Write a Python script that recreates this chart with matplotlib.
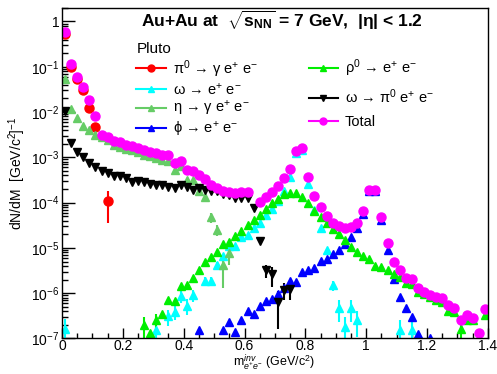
import numpy as np
import matplotlib
matplotlib.use('Agg')
import matplotlib.pyplot as plt
from matplotlib.lines import Line2D
from matplotlib.ticker import FixedLocator, FixedFormatter, LogLocator, MultipleLocator

plt.rcParams['font.family'] = ['Liberation Sans', 'DejaVu Sans']
plt.rcParams['mathtext.fontset'] = 'custom'
plt.rcParams['mathtext.rm'] = 'Liberation Sans'
plt.rcParams['mathtext.it'] = 'Liberation Sans:italic'
plt.rcParams['mathtext.bf'] = 'Liberation Sans:bold'

# pi0 -> gamma e+ e-
pi0_x = [0.01, 0.03, 0.05, 0.07, 0.09, 0.11, 0.15]
pi0_y = [0.52, 0.10, 0.054, 0.030, 0.0125, 0.0046, 1.1e-4]
pi0_e = [0, 0, 0, 0, 0, 0, 7.5e-5]

# omega -> e+ e-
om_x = [0.01, 0.31, 0.35, 0.37, 0.39, 0.41, 0.43, 0.47, 0.49, 0.51, 0.53, 0.55, 0.57,
        0.59, 0.61, 0.63, 0.65, 0.67, 0.69, 0.71, 0.73, 0.75, 0.77, 0.79, 0.81, 0.83,
        0.85, 0.87, 0.89, 0.91, 0.93, 0.95, 0.97, 1.11, 1.15]
om_y = [1.66e-7, 1.5e-7, 3.1e-7, 3.9e-7, 8.7e-7, 5.3e-7, 9e-7, 1.9e-6, 1.9e-6, 4.1e-6,
        6.5e-6, 1.1e-5, 1.1e-5, 1.7e-5, 1.9e-5, 2.7e-5, 3.6e-5, 5.4e-5, 7.1e-5, 1.1e-4,
        1.8e-4, 3.7e-4, 1.23e-3, 1.45e-3, 2.6e-4, 7e-5, 2.7e-5, 9e-6, 1.5e-6, 4.6e-7,
        1.8e-7, 4.6e-7, 2.6e-7, 1.5e-7, 1.5e-7]
om_e = [1.0e-7, 1.0e-7, 1.2e-7, 1.3e-7, 2.5e-7, 2e-7, 2.5e-7, 4e-7, 4e-7, 7e-7,
        0, 0, 0, 0, 0, 0, 0, 0, 0, 0, 0, 0, 0, 0, 0, 0, 0, 0, 4e-7, 2.3e-7,
        1.2e-7, 2.3e-7, 1.5e-7, 1e-7, 1e-7]

# eta -> gamma e+ e-
eta_x = [0.01, 0.03, 0.05, 0.07, 0.09, 0.11, 0.13, 0.15, 0.17, 0.19, 0.21, 0.23, 0.25,
         0.27, 0.29, 0.31, 0.33, 0.35, 0.37, 0.39, 0.41, 0.43, 0.45, 0.47, 0.49, 0.51,
         0.53, 0.55]
eta_y = [0.055, 0.0115, 0.0075, 0.005, 0.004, 0.0031, 0.0028, 0.0024, 0.0019, 0.0017,
         0.0015, 0.00145, 0.0013, 0.00113, 0.00105, 0.00095, 0.00088, 0.00081, 0.00053,
         0.00063, 0.00032, 0.00032, 0.00018, 0.000135, 4.8e-5, 2.5e-5, 4.1e-6, 7.6e-6]
eta_e = [0] * 24 + [1.2e-5, 7e-6, 2.8e-6, 3.5e-6]

# phi -> e+ e-
phi_x = [0.45, 0.53, 0.55, 0.57, 0.59, 0.61, 0.63, 0.65, 0.67, 0.69, 0.71, 0.73, 0.75,
         0.77, 0.79, 0.81, 0.83, 0.85, 0.87, 0.89, 0.91, 0.93, 0.95, 0.97, 0.99, 1.01,
         1.03, 1.05, 1.07, 1.09, 1.11, 1.13, 1.15, 1.17, 1.21]
phi_y = [1.5e-7, 1.5e-7, 2.3e-7, 1.4e-7, 2.5e-7, 4.1e-7, 3.5e-7, 5.2e-7, 6.8e-7, 7.6e-7,
         9.5e-7, 1.3e-6, 1.9e-6, 1.8e-6, 2.9e-6, 3.3e-6, 3.6e-6, 5.2e-6, 5.7e-6, 7.5e-6,
         8.9e-6, 1.2e-5, 1.7e-5, 2.7e-5, 5.5e-5, 1.8e-4, 1.8e-4, 4.1e-5, 9.1e-6, 2.1e-6,
         8.3e-7, 4.6e-7, 3.0e-7, 1.26e-7, 1.05e-7]

# rho0 -> e+ e-
rho_x = [0.27, 0.29, 0.31, 0.33, 0.35, 0.37, 0.39, 0.41, 0.43, 0.45, 0.47, 0.49, 0.51,
         0.53, 0.55, 0.57, 0.59, 0.61, 0.63, 0.65, 0.67, 0.69, 0.71, 0.73, 0.75, 0.77,
         0.79, 0.81, 0.83, 0.85, 0.87, 0.89, 0.91, 0.93, 0.95, 0.97, 0.99, 1.01, 1.03,
         1.05, 1.07, 1.09, 1.11, 1.13, 1.15, 1.17, 1.19, 1.21, 1.23, 1.25, 1.27, 1.29,
         1.31, 1.33, 1.35, 1.39]
rho_y = [2.0e-7, 1.35e-7, 2.5e-7, 3.5e-7, 6.9e-7, 6.7e-7, 1.45e-6, 1.5e-6, 2.2e-6, 3.3e-6,
         5.0e-6, 6.4e-6, 8.0e-6, 1.2e-5, 1.37e-5, 1.85e-5, 2.4e-5, 3.2e-5, 4.1e-5, 5.2e-5,
         7.4e-5, 9.6e-5, 1.23e-4, 1.55e-4, 1.6e-4, 1.6e-4, 1.3e-4, 9.6e-5, 6.5e-5, 4.9e-5,
         3.5e-5, 2.6e-5, 2.0e-5, 1.48e-5, 1.07e-5, 8.0e-6, 6.7e-6, 5.7e-6, 4.0e-6, 3.7e-6,
         3.2e-6, 2.6e-6, 2.3e-6, 1.7e-6, 1.6e-6, 1.07e-6, 9.5e-7, 8.3e-7, 7.0e-7, 6.5e-7,
         4.0e-7, 3.9e-7, 1.6e-7, 2.6e-7, 2.5e-7, 3.3e-7]
rho_e = [1.0e-7, 0, 1.0e-7] + [0] * 49 + [1.0e-7, 0, 0, 0]

# omega -> pi0 e+ e-
omd_x = [0.01, 0.03, 0.05, 0.07, 0.09, 0.11, 0.13, 0.15, 0.17, 0.19, 0.21, 0.23, 0.25,
         0.27, 0.29, 0.31, 0.33, 0.35, 0.37, 0.39, 0.41, 0.43, 0.45, 0.47, 0.49, 0.51,
         0.53, 0.55, 0.57, 0.59, 0.61, 0.63, 0.65, 0.67, 0.69, 0.71, 0.73, 0.75]
omd_y = [0.0105, 0.0021, 0.00134, 0.001, 7.4e-4, 6e-4, 5.0e-4, 4.6e-4, 3.8e-4, 3.8e-4,
         3.5e-4, 2.8e-4, 3.0e-4, 2.8e-4, 2.6e-4, 2.5e-4, 2.5e-4, 2.2e-4, 2.1e-4, 2.5e-4,
         2.2e-4, 1.9e-4, 2.1e-4, 1.9e-4, 1.78e-4, 1.78e-4, 1.56e-4, 1.44e-4, 1.28e-4,
         1.28e-4, 1.25e-4, 7.7e-5, 1.44e-5, 3.2e-6, 2.6e-6, 6.4e-7, 1.2e-6, 1.26e-6]
omd_e = [0] * 33 + [1.0e-6, 1.2e-6, 4.8e-7, 5e-7, 5.5e-7]

# total
tot_x = [0.01, 0.03, 0.05, 0.07, 0.09, 0.11, 0.13, 0.15, 0.17, 0.19, 0.21, 0.23, 0.25,
         0.27, 0.29, 0.31, 0.33, 0.35, 0.37, 0.39, 0.41, 0.43, 0.45, 0.47, 0.49, 0.51,
         0.53, 0.55, 0.57, 0.59, 0.61, 0.65, 0.67, 0.69, 0.71, 0.73, 0.75, 0.77, 0.79,
         0.81, 0.83, 0.85, 0.87, 0.89, 0.91, 0.93, 0.95, 0.97, 0.99, 1.01, 1.03, 1.05,
         1.07, 1.09, 1.11, 1.13, 1.15, 1.17, 1.19, 1.21, 1.23, 1.25, 1.27, 1.29, 1.31,
         1.33, 1.35, 1.37, 1.39]
tot_y = [0.58, 0.115, 0.059, 0.035, 0.018, 0.008, 0.0031, 0.00285, 0.0023, 0.0022,
         0.0019, 0.0018, 0.0016, 0.00145, 0.0013, 0.00123, 0.00113, 0.0011, 0.00074,
         0.00085, 0.00053, 0.00051, 0.0004, 0.00033, 0.00025, 0.00021, 0.000178, 0.00017,
         0.000163, 0.00017, 0.00017, 1.04e-4, 1.3e-4, 1.7e-4, 2.3e-4, 3.5e-4, 5.5e-4,
         1.4e-3, 1.6e-3, 3.7e-4, 1.38e-4, 8.1e-5, 5.0e-5, 3.6e-5, 3.1e-5, 2.8e-5, 2.9e-5,
         3.6e-5, 6.5e-5, 1.9e-4, 1.9e-4, 4.8e-5, 1.26e-5, 5.0e-6, 3.3e-6, 2.2e-6, 2.1e-6,
         1.3e-6, 1.05e-6, 9.3e-7, 8.3e-7, 7.9e-7, 5.4e-7, 4.8e-7, 2.6e-7, 3.3e-7, 2.9e-7,
         1.35e-7, 4.5e-7]

ytick_vals = [1e-7, 1e-6, 1e-5, 1e-4, 1e-3, 1e-2, 1e-1, 1]
ytick_labels = ['10$^{-7}$', '10$^{-6}$', '10$^{-5}$', '10$^{-4}$', '10$^{-3}$',
                '10$^{-2}$', '10$^{-1}$', '1']
xtick_vals = [0, 0.2, 0.4, 0.6, 0.8, 1.0, 1.2, 1.4]
xtick_labels = ['0', '0.2', '0.4', '0.6', '0.8', '1', '1.2', '1.4']

fig = plt.figure(figsize=(4.97, 3.74), dpi=100)
ax = fig.add_axes([0.1247, 0.095, 0.857, 0.884])

series = [
    (pi0_x, pi0_y, pi0_e, '#ff0000', 'o', 'π$^{0}$ → γ e$^{+}$ e$^{-}$'),
    (om_x, om_y, om_e, '#00ffff', '^', 'ω → e$^{+}$ e$^{-}$'),
    (eta_x, eta_y, eta_e, '#66cc66', '^', 'η → γ e$^{+}$ e$^{-}$'),
    (phi_x, phi_y, None, '#0000ff', '^', 'ϕ → e$^{+}$ e$^{-}$'),
    (rho_x, rho_y, rho_e, '#00ee00', '^', 'ρ$^{0}$ → e$^{+}$ e$^{-}$'),
    (omd_x, omd_y, omd_e, '#000000', 'v', 'ω → π$^{0}$ e$^{+}$ e$^{-}$'),
    (tot_x, tot_y, None, '#ff00ff', 'o', 'Total'),
]

handles = []
for x, y, e, col, mk, lab in series:
    ms = 6.5 if mk == 'o' else 6
    ax.errorbar(x, y, yerr=e, fmt=mk, color=col, ms=ms, mec=col, elinewidth=1.5,
                capsize=0, linestyle='none')
    handles.append(Line2D([0], [0], color=col, marker=mk, ms=5, lw=1.5, label=lab))

ax.set_yscale('log')
ax.set_xlim(0, 1.4)
ax.set_ylim(1e-7, 2.0)
ax.yaxis.set_major_locator(FixedLocator(ytick_vals))
ax.yaxis.set_major_formatter(FixedFormatter(ytick_labels))
ax.yaxis.set_minor_locator(LogLocator(base=10, subs=np.arange(2, 10)))
ax.xaxis.set_minor_locator(MultipleLocator(0.05))
ax.set_xticks(xtick_vals)
ax.set_xticklabels(xtick_labels)
ax.tick_params(which='both', direction='in', top=False, right=False, labelsize=10)
ax.tick_params(axis='y', which='major', length=9, width=1, pad=2)
ax.tick_params(axis='y', which='minor', length=4.5, width=1)
ax.tick_params(axis='x', which='major', length=7, width=1, pad=0.5)
ax.tick_params(axis='x', which='minor', length=3.5, width=1)
for s in ax.spines.values():
    s.set_linewidth(1.0)

ax.set_ylabel('dN/dM  [GeV/c$^{2}$]$^{-1}$', fontsize=10, labelpad=2)
# x title pinned to the bottom edge of the figure
fig.text(0.552, 0.002, 'm$^{inv}_{e^{+}e^{-}}$ (GeV/c$^{2}$)', fontsize=9,
         ha='center', va='bottom')

ax.text(0.516, 0.962, r'Au+Au at  $\sqrt{\mathbf{s_{NN}}}$ = 7 GeV,  |η| < 1.2',
        transform=ax.transAxes, ha='center', va='center', fontsize=12.5, fontweight='bold')

leg1 = ax.legend(handles=handles[:4], loc='upper left', bbox_to_anchor=(0.168, 0.905),
                 frameon=False, fontsize=10.5, title='Pluto', title_fontsize=11,
                 alignment='left', handlelength=2.0, handletextpad=0.5,
                 labelspacing=0.12, borderpad=0.2, borderaxespad=0)
ax.add_artist(leg1)
ax.legend(handles=handles[4:], loc='upper left', bbox_to_anchor=(0.572, 0.86),
          frameon=False, fontsize=10.5, handlelength=2.0, handletextpad=0.5,
          labelspacing=0.6, borderpad=0.2, borderaxespad=0)

fig.savefig('out.png', dpi=100)
